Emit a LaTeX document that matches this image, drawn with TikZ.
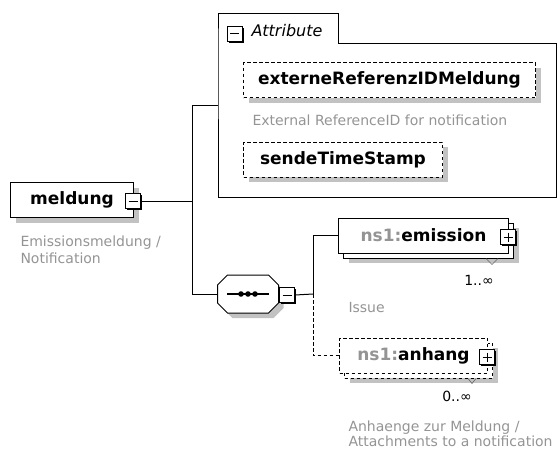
\documentclass[tikz,border=0pt]{standalone}
\usepackage{fontspec}
\setmainfont{DejaVu Sans}
\usetikzlibrary{positioning,shadows}

\definecolor{descgray}{gray}{0.58}
\definecolor{shade}{gray}{0.76}

\begin{document}
\begin{tikzpicture}[x=1pt,y=-1pt,line width=1pt,
	elem/.style={draw,fill=white,font=\fontsize{17}{20}\selectfont\bfseries,minimum height=35pt,inner sep=0pt,anchor=west,
		general shadow={fill=shade,shadow xshift=5pt,shadow yshift=-5pt}},
	plain/.style={draw,fill=white,font=\fontsize{17}{20}\selectfont\bfseries,minimum height=35pt,inner sep=0pt,anchor=west},
	opt/.style={dash pattern=on 3.5pt off 2.5pt},
	icon/.style={draw,fill=white,minimum size=15pt,inner sep=0pt,
		general shadow={fill=black,shadow xshift=1.5pt,shadow yshift=-1.5pt}},
	minus/.style={icon,path picture={\draw[line width=1pt] ([xshift=3pt]path picture bounding box.west) -- ([xshift=-3pt]path picture bounding box.east);}},
	plus/.style={icon,path picture={\draw[line width=1pt] ([xshift=3pt]path picture bounding box.west) -- ([xshift=-3pt]path picture bounding box.east)
		([yshift=-3pt]path picture bounding box.north) -- ([yshift=3pt]path picture bounding box.south);}},
	descr/.style={text=descgray,font=\fontsize{14}{17}\selectfont,inner sep=0pt,align=left,anchor=north west},
	card/.style={font=\fontsize{14}{17}\selectfont,inner sep=0pt,anchor=base}]
	\useasboundingbox (0,0) rectangle (558,450);

	% root element
	\node[elem,minimum width=123pt] (meldung) at (10,200) {meldung\hspace{8pt}};
	\node[minus] (mminus) at (133,201) {};
	\node[descr] (mdesc) at (20,235.4) {Emissionsmeldung /\\Notification};

	% attribute group
	\draw (218,43) -- (218,13) -- (338,13) -- (338,43) -- (556,43) -- (556,197) -- (218,197) -- cycle;
	\coordinate (attrin) at (218,105);
	\node[minus] (aminus) at (234.5,33.5) {};
	\node[font=\fontsize{16}{19}\selectfont\itshape,inner sep=0pt,anchor=west] (attrlabel) at (251,31) {Attribute};
	\node[elem,opt,minimum width=292pt] (extref) at (243,80) {externeReferenzIDMeldung};
	\node[descr,anchor=base west] (extdesc) at (252,125) {External ReferenceID for notification};
	\node[elem,opt,minimum width=199pt] (sendets) at (243,159.5) {sendeTimeStamp};

	% sequence
	\node[minimum width=60pt,minimum height=37pt,inner sep=0pt] (seq) at (248,294) {};
	\draw[fill=white,general shadow={fill=shade,shadow xshift=5pt,shadow yshift=-5pt}]
		([xshift=10pt]seq.north west) -- ([xshift=-10pt]seq.north east) -- ([yshift=-10pt]seq.north east)
		-- ([yshift=10pt]seq.south east) -- ([xshift=-10pt]seq.south east) -- ([xshift=10pt]seq.south west)
		-- ([yshift=10pt]seq.south west) -- ([yshift=-10pt]seq.north west) -- cycle;
	\draw[line width=1.2pt] ([xshift=-21pt]seq.center) -- ([xshift=21pt]seq.center);
	\foreach \dx in {-7,0,7}
		\fill ([xshift=\dx pt]seq.center) circle (2.8pt);
	\node[minus] (sminus) at (287,295) {};

	% child elements
	\node[elem,minimum width=170pt] (emisback) at (343,240.5) {};
	\node[plain,minimum width=170pt] (emission) at (338,235.5) {\textcolor{descgray}{ns1:}emission\hspace{4pt}};
	\draw[line width=.6pt,black!60] ([xshift=-28pt]emisback.south east) -- ++(6,6) -- ++(6,-6);
	\node[plus] (eplus) at (508,237) {};
	\node[card] (ecard) at (479,285) {1..∞};
	\node[descr,anchor=base west] (edesc) at (348,312) {Issue};

	\node[elem,opt,minimum width=148pt] (anhback) at (344,360.5) {};
	\node[plain,opt,minimum width=148pt] (anhang) at (339,355.5) {\textcolor{descgray}{ns1:}anhang\hspace{6pt}};
	\draw[line width=.6pt,black!60] ([xshift=-25pt]anhback.south east) -- ++(4,5) -- ++(4,-5);
	\node[plus] (aplus) at (487,357) {};
	\node[card] (acard) at (457,401) {0..∞};
	\node[descr] (adesc) at (348,420) {Anhaenge zur Meldung /\\[-1.5pt]Attachments to a notification};

	% connectors
	\coordinate (fork) at (192,201);
	\coordinate (fork2) at (313,294);
	\draw (mminus.east) -- (fork);
	\draw (fork) |- (attrin);
	\draw (fork) |- (seq.west);
	\draw (sminus.east) -- (fork2);
	\draw (fork2) |- (emission.west);
	\draw[opt] (fork2) |- (anhang.west);
\end{tikzpicture}
\end{document}
